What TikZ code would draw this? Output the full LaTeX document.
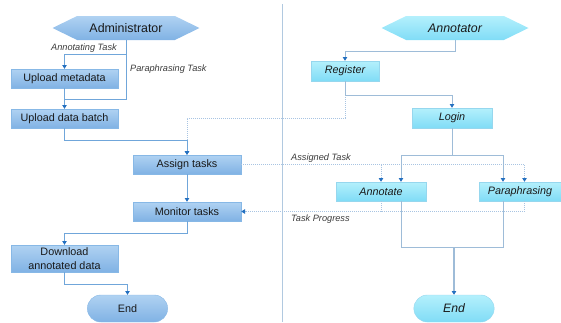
\documentclass[tikz,border=0pt]{standalone}
\usepackage{fontspec}
\setmainfont{Liberation Sans}
\usetikzlibrary{positioning, arrows.meta, shapes.misc, shapes.symbols}
\definecolor{admintop}{RGB}{176,210,242}
\definecolor{adminbot}{RGB}{128,178,228}
\definecolor{adminline}{RGB}{135,184,230}
\definecolor{anntop}{RGB}{180,240,252}
\definecolor{annbot}{RGB}{128,220,246}
\definecolor{annline}{RGB}{150,215,238}
\definecolor{leftflow}{RGB}{112,166,218}
\definecolor{rightflow}{RGB}{158,188,216}
\definecolor{dotflow}{RGB}{168,196,226}
\definecolor{tipblue}{RGB}{36,112,192}
\definecolor{textdark}{RGB}{25,25,25}
\begin{document}
\begin{tikzpicture}[
    x=1pt, y=-1pt,
    abox/.style={rectangle, draw=adminline, top color=admintop, bottom color=adminbot,
                 minimum width=107pt, minimum height=19pt, inner sep=1pt, align=center,
                 text=textdark, font=\fontsize{10.8}{13.3}\selectfont},
    bbox/.style={abox, draw=annline, top color=anntop, bottom color=annbot, font=\fontsize{10.8}{13.3}\selectfont\itshape},
    ahex/.style={signal, signal to=west and east, signal pointer angle=52,
                 draw=none, top color=admintop, bottom color=adminbot, minimum width=147pt,
                 minimum height=24pt, inner sep=0pt, text=textdark, font=\fontsize{12.4}{14}\selectfont},
    bhex/.style={ahex, top color=anntop, bottom color=annbot, font=\fontsize{12.4}{14}\selectfont\itshape},
    adminend/.style={rounded rectangle, draw=adminline, top color=admintop, bottom color=adminbot,
                 minimum width=87pt, minimum height=27pt, text=textdark, font=\fontsize{10.8}{13}\selectfont},
    annend/.style={adminend, draw=annline, top color=anntop, bottom color=annbot, font=\fontsize{12.2}{14}\selectfont\itshape},
    arrow/.style={-{Triangle[length=3.8pt, width=4.5pt, color=tipblue]}, leftflow, line width=0.8pt},
    rarrow/.style={arrow, rightflow},
    rline/.style={rightflow, line width=0.8pt},
    dotarrow/.style={arrow, dotflow, line width=1pt, dash pattern=on 1pt off 1pt},
    dotline/.style={dotflow, line width=1pt, dash pattern=on 1pt off 1pt},
    tag/.style={font=\fontsize{9.2}{11}\selectfont\itshape, text=textdark!85, inner sep=0pt},
]
    \useasboundingbox (0,0) rectangle (561,322);

    % Lane divider
    \draw[line width=1pt, rightflow!80] (282,4) -- (282,322);

    % Administrator lane
    \node[ahex] (admin) at (126,28) {Administrator};
    \node[abox] (meta) at (64.5,78.5) {Upload metadata};
    \node[abox] (batch) at (64.5,118.5) {Upload data batch};
    \node[abox, minimum width=108pt] (assign) at (187,164.5) {Assign tasks};
    \node[abox, minimum width=108pt] (monitor) at (187,211.5) {Monitor tasks};
    \node[abox, minimum height=27pt] (download) at (64.5,258.5) {Download\\annotated data};
    \node[adminend] (endA) at (127.5,308.5) {End};

    % Annotator lane
    \node[bhex] (annotator) at (455,28) {Annotator};
    \node[bbox, minimum width=68pt, minimum height=20pt] (register) at (345,71) {Register};
    \node[bbox, minimum width=80pt, minimum height=20pt] (login) at (452,118) {Login};
    \node[bbox, minimum width=90pt] (annotate) at (381,191.5) {Annotate};
    \node[bbox, minimum width=82pt] (para) at (520,191.5) {Paraphrasing};
    \node[annend] (endB) at (454,308.5) {End};

    % Dotted links between lanes
    \draw[dotarrow] (register.south) -- ++(0,37) -| (assign.north);
    \draw[dotarrow] (assign.east) -| ([xshift=4.5pt]para.north);
    \draw[dotarrow] (annotate.north |- assign.east) -- (annotate.north);
    \draw[dotarrow] ([xshift=4.5pt]para.south) |- (monitor.east);
    \draw[dotline] (annotate.south) -- (annotate.south |- monitor.east);

    % Administrator flow
    \draw[arrow] (admin.south) -- ++(0,14) -| (meta.north);
    \coordinate (join) at (64.5,99);
    \draw[leftflow, line width=0.8pt] (admin.south) |- (join);
    \draw[arrow] (meta.south) -- (batch.north);
    \draw[arrow] (batch.south) -- ++(0,12) -| (assign.north);
    \draw[arrow] (assign.south) -- (monitor.north);
    \draw[arrow] (monitor.south) -- ++(0,12) -| (download.north);
    \draw[arrow] (download.south) -- ++(0,12) -| (endA.north);

    % Annotator flow
    \draw[rarrow] (annotator.south) -- ++(0,11) -| (register.north);
    \draw[rarrow] (register.south) -- ++(0,14) -| (login.north);
    \draw[rarrow] (login.south) -- ++(0,27) -| ([xshift=20pt]annotate.north);
    \draw[rarrow] (login.south) -- ++(0,27) -| ([xshift=-17pt]para.north);
    \draw[rline] ([xshift=20pt]annotate.south) -- ++(0,46.5) coordinate (merge) -| ([xshift=-17pt]para.south);
    \draw[rarrow, line width=1.6pt] (merge -| endB.north) -- (endB.north);

    % Labels
    \node[tag, anchor=east] (lblannot) at (117,48) {Annotating Task};
    \node[tag, anchor=west] (lblpara) at (130,69) {Paraphrasing Task};
    \node[tag, anchor=west] (lblassign) at (291,158) {Assigned Task};
    \node[tag, anchor=west] (lblprog) at (291,219) {Task Progress};
\end{tikzpicture}
\end{document}
